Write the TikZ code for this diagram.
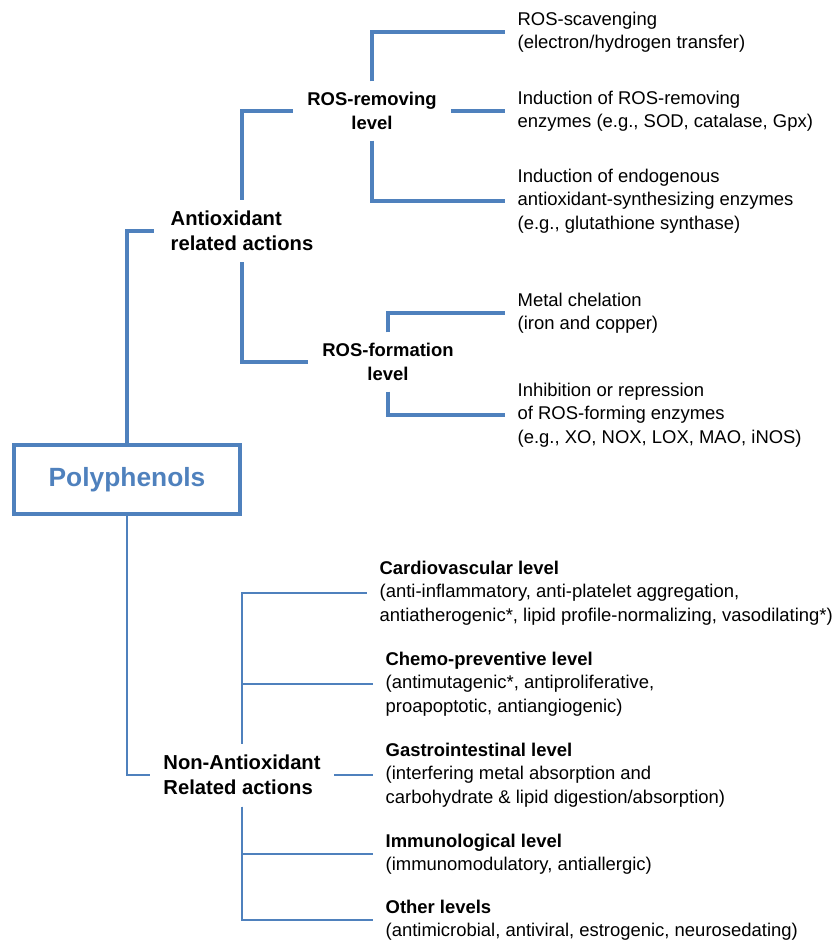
\documentclass[tikz,border=0pt]{standalone}
\usepackage{fontspec}
\setmainfont{Liberation Sans}
\usetikzlibrary{positioning}
\definecolor{lineblue}{RGB}{79,129,189}
\tikzset{%
  % Specifications for style of nodes:
         base/.style = {inner sep=0pt, text=black},
      mainbox/.style = {rectangle, draw=lineblue, line width=2.3pt,
                        minimum width=4.52cm, minimum height=1.38cm,
                        text=lineblue, font=\fontsize{15}{18}\selectfont\bfseries},
    actionbox/.style = {base, align=left, inner xsep=7.5pt, inner ysep=6.5pt,
                        font=\fontsize{11.5}{14}\selectfont\bfseries},
     levelbox/.style = {base, align=center, inner xsep=8pt, inner ysep=6pt,
                        font=\fontsize{10.5}{13.5}\selectfont\bfseries},
      itembox/.style = {base, align=left, anchor=west, inner xsep=7pt,
                        font=\fontsize{10.5}{13.3}\selectfont},
  % Specifications for style of lines:
    thickline/.style = {draw=lineblue, line width=1.9pt},
     thinline/.style = {draw=lineblue, line width=0.8pt},
}
\begin{document}
\begin{tikzpicture}[x=0.02cm, y=-0.02cm]
\useasboundingbox (0,0) rectangle (839,941);

\node (PP)     [mainbox] at (127,479.5)             {Polyphenols};

% antioxidant side
\node (AR)     [actionbox, inner xsep=9.5pt] at (242,231)   {Antioxidant\\related actions};

\node (RR)     [levelbox] at (372,111)              {ROS-removing\\level};

\node (RF)     [levelbox] at (388,362)              {ROS-formation\\level};

\node (SC)     [itembox] at (505,32)    {ROS-scavenging\\(electron/hydrogen transfer)};
\node (IE)     [itembox] at (505,111)   {Induction of ROS-removing\\enzymes (e.g., SOD, catalase, Gpx)};
\node (IS)     [itembox] at (505,201)   {Induction of endogenous\\antioxidant-synthesizing enzymes\\(e.g., glutathione synthase)};
\node (MC)     [itembox] at (505,313)   {Metal chelation\\(iron and copper)};
\node (IR)     [itembox] at (505,415)   {Inhibition or repression\\of ROS-forming enzymes\\(e.g., XO, NOX, LOX, MAO, iNOS)};

% non-antioxidant side
\node (NA)     [actionbox] at (242,775)             {Non-Antioxidant\\Related actions};

\node (CV)     [itembox] at (367,593)   {\textbf{Cardiovascular level}\\(anti-inflammatory, anti-platelet aggregation,\\antiatherogenic*, lipid profile-normalizing, vasodilating*)};
\node (CP)     [itembox] at (373,684)   {\textbf{Chemo-preventive level}\\(antimutagenic*, antiproliferative,\\proapoptotic, antiangiogenic)};
\node (GI)     [itembox] at (373,775)   {\textbf{Gastrointestinal level}\\(interfering metal absorption and\\carbohydrate \& lipid digestion/absorption)};
\node (IM)     [itembox] at (373,854)   {\textbf{Immunological level}\\(immunomodulatory, antiallergic)};
\node (OL)     [itembox] at (373,920)   {\textbf{Other levels}\\(antimicrobial, antiviral, estrogenic, neurosedating)};

\draw[thickline]      (PP.north) |- (AR.west);
\draw[thickline]      (AR.north) |- (RR.west);
\draw[thickline]      (AR.south) |- (RF.west);
\draw[thickline]      (RR.north) |- (SC.west);
\draw[thickline]      (RR.east) -- (IE.west);
\draw[thickline]      (RR.south) |- (IS.west);
\draw[thickline]      (RF.north) |- (MC.west);
\draw[thickline]      (RF.south) |- (IR.west);

\draw[thinline]       (PP.south) |- (NA.west);
\draw[thinline]       (NA.north) |- (CV.west);
\draw[thinline]       (NA.north) |- (CP.west);
\draw[thinline]       (NA.east) -- (GI.west);
\draw[thinline]       (NA.south) |- (IM.west);
\draw[thinline]       (NA.south) |- (OL.west);
\end{tikzpicture}
\end{document}
